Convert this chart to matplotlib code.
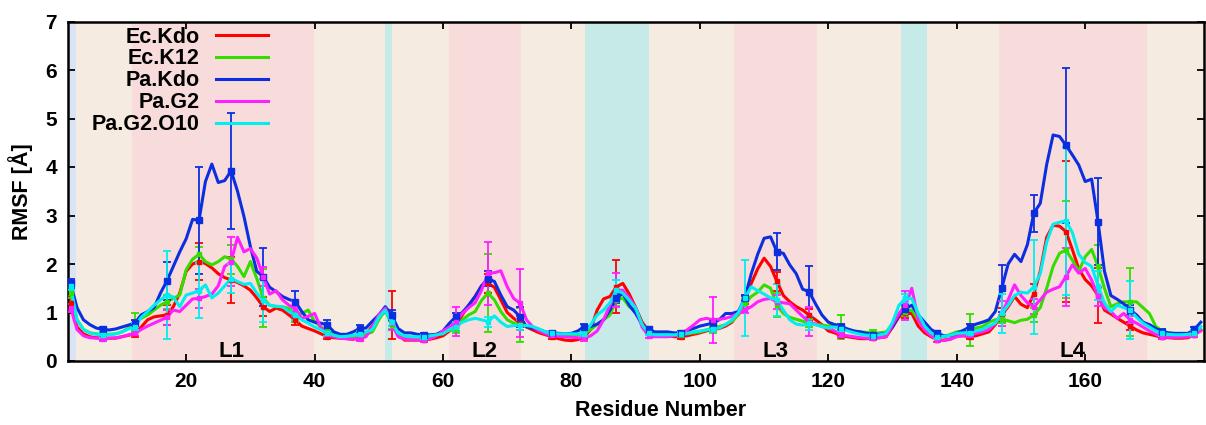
import numpy as np
import matplotlib
matplotlib.use('Agg')
import matplotlib.pyplot as plt

plt.rcParams['font.family'] = ['Liberation Sans', 'DejaVu Sans']
plt.rcParams['font.weight'] = 'bold'

# residues 2..178
residues = np.arange(2, 179)

ec_kdo = [1.20, 0.70, 0.56, 0.50, 0.48, 0.47, 0.47, 0.47,
          0.50, 0.53, 0.56, 0.70, 0.85, 0.91, 0.93, 0.95, 1.12, 1.40,
          1.85, 2.00, 2.05, 2.01, 1.92, 1.80, 1.72, 1.67, 1.62, 1.55,
          1.46, 1.30, 1.12, 1.02, 1.09, 1.05, 0.95, 0.85, 0.72, 0.67,
          0.62, 0.56, 0.50, 0.48, 0.47, 0.46, 0.45, 0.48, 0.55, 0.72,
          0.90, 1.02, 0.95, 0.55, 0.43, 0.43, 0.43, 0.44, 0.45, 0.48,
          0.52, 0.62, 0.72, 0.95, 1.15, 1.33, 1.55, 1.60, 1.52, 1.26,
          1.00, 0.88, 0.78, 0.70, 0.64, 0.58, 0.54, 0.50, 0.46, 0.43,
          0.42, 0.44, 0.50, 0.65, 1.05, 1.28, 1.33, 1.53, 1.60, 1.38,
          1.10, 0.80, 0.62, 0.57, 0.54, 0.52, 0.50, 0.50, 0.52, 0.55,
          0.58, 0.62, 0.65, 0.67, 0.72, 0.80, 1.00, 1.26, 1.60, 1.90,
          2.12, 1.95, 1.64, 1.35, 1.22, 1.12, 1.05, 0.95, 0.85, 0.75,
          0.62, 0.58, 0.52, 0.50, 0.48, 0.46, 0.46, 0.47, 0.48, 0.50,
          0.70, 0.91, 0.98, 0.98, 0.72, 0.58, 0.50, 0.43, 0.43, 0.45,
          0.52, 0.52, 0.50, 0.52, 0.56, 0.60, 0.75, 0.95, 1.12, 1.33,
          1.17, 1.10, 1.38, 1.85, 2.55, 2.80, 2.78, 2.67, 2.30, 1.90,
          1.68, 1.55, 1.35, 1.05, 0.97, 0.88, 0.80, 0.72, 0.64, 0.58,
          0.55, 0.52, 0.49, 0.48, 0.47, 0.47, 0.48, 0.54, 0.64]

ec_k12 = [1.40, 0.85, 0.65, 0.58, 0.56, 0.55, 0.55, 0.56,
          0.60, 0.68, 0.80, 0.88, 0.95, 1.05, 1.15, 1.22, 1.29, 1.36,
          1.88, 2.10, 2.20, 2.05, 1.98, 2.05, 2.15, 2.10, 1.95, 1.74,
          2.05, 1.70, 1.30, 1.15, 1.12, 1.12, 1.08, 0.95, 0.98, 1.05,
          0.81, 0.70, 0.62, 0.56, 0.51, 0.50, 0.49, 0.50, 0.55, 0.60,
          0.85, 1.05, 0.75, 0.55, 0.50, 0.48, 0.47, 0.47, 0.50, 0.55,
          0.60, 0.63, 0.67, 0.85, 0.95, 1.02, 1.25, 1.40, 1.26, 1.02,
          0.85, 0.78, 0.74, 0.72, 0.70, 0.65, 0.58, 0.56, 0.54, 0.52,
          0.53, 0.54, 0.56, 0.65, 0.75, 0.85, 0.95, 1.26, 1.30, 1.12,
          1.02, 0.75, 0.60, 0.56, 0.55, 0.54, 0.54, 0.54, 0.56, 0.58,
          0.60, 0.64, 0.68, 0.71, 0.75, 0.82, 0.95, 1.19, 1.33, 1.42,
          1.57, 1.50, 1.15, 0.98, 0.90, 0.86, 0.82, 0.78, 0.76, 0.74,
          0.72, 0.75, 0.70, 0.64, 0.61, 0.60, 0.59, 0.58, 0.58, 0.60,
          0.75, 0.98, 1.02, 1.05, 0.85, 0.70, 0.58, 0.50, 0.50, 0.55,
          0.60, 0.62, 0.64, 0.68, 0.71, 0.80, 0.85, 0.86, 0.83, 0.79,
          0.84, 0.86, 0.95, 1.10, 1.50, 1.95, 2.22, 2.29, 2.08, 1.85,
          2.15, 2.30, 1.95, 1.50, 1.12, 1.18, 1.22, 1.22, 1.22, 1.10,
          0.98, 0.71, 0.62, 0.58, 0.55, 0.54, 0.55, 0.57, 0.65]

pa_kdo = [1.60, 1.10, 0.85, 0.75, 0.68, 0.65, 0.64, 0.66,
          0.70, 0.74, 0.78, 0.95, 1.02, 1.10, 1.40, 1.65, 1.95, 2.25,
          2.52, 2.92, 2.90, 3.70, 4.06, 3.68, 3.72, 3.92, 3.50, 2.98,
          2.36, 1.85, 1.74, 1.52, 1.43, 1.33, 1.27, 1.22, 1.02, 0.85,
          0.80, 0.78, 0.74, 0.60, 0.55, 0.55, 0.60, 0.67, 0.68, 0.82,
          0.95, 1.12, 0.95, 0.67, 0.58, 0.58, 0.55, 0.54, 0.54, 0.55,
          0.62, 0.78, 0.91, 1.00, 1.15, 1.33, 1.55, 1.70, 1.64, 1.36,
          1.12, 1.05, 0.91, 0.71, 0.67, 0.64, 0.60, 0.58, 0.57, 0.56,
          0.57, 0.62, 0.71, 0.71, 0.76, 0.85, 1.05, 1.29, 1.40, 1.15,
          0.98, 0.75, 0.65, 0.60, 0.60, 0.60, 0.58, 0.58, 0.62, 0.67,
          0.72, 0.75, 0.78, 0.85, 0.98, 0.98, 1.02, 1.30, 1.80, 2.20,
          2.53, 2.56, 2.25, 2.22, 1.98, 1.80, 1.48, 1.43, 1.18, 0.95,
          0.80, 0.75, 0.71, 0.66, 0.62, 0.60, 0.57, 0.54, 0.55, 0.57,
          0.70, 0.95, 1.08, 1.15, 0.95, 0.80, 0.65, 0.57, 0.52, 0.52,
          0.57, 0.63, 0.70, 0.76, 0.80, 0.85, 1.02, 1.50, 2.00, 2.20,
          2.05, 2.40, 3.05, 3.25, 4.05, 4.66, 4.63, 4.45, 4.25, 4.04,
          3.70, 3.75, 2.87, 1.85, 1.35, 1.27, 1.18, 1.05, 0.95, 0.80,
          0.75, 0.67, 0.60, 0.58, 0.57, 0.57, 0.57, 0.65, 0.80]

pa_g2 = [1.10, 0.65, 0.52, 0.48, 0.47, 0.46, 0.47, 0.48,
         0.50, 0.54, 0.57, 0.65, 0.72, 0.78, 0.84, 0.90, 1.05, 1.02,
         1.15, 1.28, 1.29, 1.33, 1.38, 1.55, 1.95, 2.05, 2.55, 2.25,
         2.32, 2.12, 1.74, 1.38, 1.45, 1.26, 1.15, 1.08, 0.88, 0.92,
         0.98, 0.68, 0.55, 0.50, 0.47, 0.46, 0.45, 0.46, 0.50, 0.70,
         0.95, 1.09, 0.78, 0.50, 0.45, 0.44, 0.43, 0.44, 0.46, 0.52,
         0.62, 0.70, 0.81, 0.98, 1.10, 1.20, 1.46, 1.81, 1.82, 1.86,
         1.53, 1.29, 1.19, 0.85, 0.70, 0.62, 0.56, 0.53, 0.51, 0.50,
         0.49, 0.48, 0.47, 0.52, 0.62, 0.85, 1.15, 1.46, 1.46, 1.30,
         1.10, 0.70, 0.52, 0.50, 0.50, 0.50, 0.52, 0.56, 0.64, 0.74,
         0.85, 0.88, 0.85, 0.86, 0.88, 0.92, 0.98, 1.05, 1.12, 1.22,
         1.27, 1.29, 1.22, 1.20, 1.18, 1.05, 0.92, 0.81, 0.76, 0.71,
         0.68, 0.62, 0.54, 0.52, 0.50, 0.48, 0.47, 0.47, 0.48, 0.50,
         0.75, 0.98, 1.15, 1.50, 0.85, 0.64, 0.52, 0.43, 0.42, 0.45,
         0.50, 0.52, 0.54, 0.57, 0.60, 0.65, 0.78, 0.98, 1.26, 1.57,
         1.35, 1.20, 1.12, 1.26, 1.42, 1.48, 1.53, 1.74, 1.98, 1.81,
         1.91, 1.67, 1.33, 1.10, 1.02, 0.88, 0.98, 0.85, 0.78, 0.70,
         0.62, 0.55, 0.50, 0.49, 0.49, 0.49, 0.50, 0.54, 0.62]

pa_g2_o10 = [1.55, 0.85, 0.65, 0.58, 0.55, 0.54, 0.54, 0.56,
             0.60, 0.66, 0.71, 0.90, 1.02, 1.15, 1.26, 1.36, 1.32, 1.12,
             1.36, 1.40, 1.45, 1.57, 1.30, 1.40, 1.55, 1.70, 1.64, 1.58,
             1.60, 1.40, 1.25, 1.15, 1.13, 1.12, 1.02, 0.95, 0.85, 0.78,
             0.70, 0.64, 0.57, 0.53, 0.50, 0.51, 0.53, 0.56, 0.60, 0.65,
             0.90, 1.05, 0.80, 0.58, 0.52, 0.50, 0.50, 0.50, 0.52, 0.54,
             0.56, 0.65, 0.71, 0.80, 0.85, 0.88, 0.85, 0.81, 0.93, 0.80,
             0.71, 0.73, 0.74, 0.73, 0.71, 0.66, 0.60, 0.57, 0.56, 0.56,
             0.56, 0.56, 0.56, 0.75, 0.95, 1.05, 1.20, 1.46, 1.40, 1.25,
             1.09, 0.75, 0.58, 0.54, 0.54, 0.54, 0.54, 0.55, 0.57, 0.60,
             0.62, 0.64, 0.66, 0.68, 0.75, 0.85, 1.00, 1.30, 1.53, 1.45,
             1.38, 1.30, 1.26, 1.05, 0.85, 0.76, 0.74, 0.78, 0.75, 0.71,
             0.68, 0.70, 0.67, 0.62, 0.58, 0.55, 0.53, 0.52, 0.54, 0.57,
             0.80, 1.15, 1.29, 1.29, 0.98, 0.72, 0.58, 0.50, 0.51, 0.53,
             0.57, 0.58, 0.58, 0.62, 0.65, 0.72, 0.78, 0.98, 1.15, 1.35,
             1.42, 1.40, 1.53, 1.80, 2.45, 2.82, 2.86, 2.89, 2.65, 2.20,
             2.03, 1.95, 1.55, 1.20, 1.02, 1.15, 1.10, 1.05, 0.90, 0.78,
             0.70, 0.62, 0.57, 0.55, 0.54, 0.54, 0.55, 0.57, 0.71]

# error bars every 5th residue (2, 7, ..., 177)
err_residues = np.arange(2, 179, 5)
ec_kdo_err = [0.15, 0.04, 0.06, 0.20, 0.38, 0.48, 0.20, 0.10, 0.05, 0.05, 0.50, 0.04,
              0.10, 0.20, 0.15, 0.04, 0.05, 0.55, 0.05, 0.04, 0.05, 0.08, 0.20, 0.12,
              0.05, 0.04, 0.10, 0.04, 0.05, 0.15, 0.20, 1.45, 0.57, 0.08, 0.04, 0.05]
ec_k12_err = [0.10, 0.04, 0.20, 0.15, 0.15, 0.30, 0.60, 0.15, 0.05, 0.05, 0.08, 0.04,
              0.10, 0.80, 0.35, 0.04, 0.05, 0.12, 0.05, 0.04, 0.10, 0.08, 0.25, 0.08,
              0.25, 0.05, 0.10, 0.04, 0.33, 0.08, 0.15, 1.00, 0.45, 0.70, 0.05, 0.06]
pa_kdo_err = [0.10, 0.05, 0.06, 0.40, 1.10, 1.20, 0.60, 0.23, 0.10, 0.08, 0.10, 0.04,
              0.08, 0.15, 0.20, 0.04, 0.06, 0.10, 0.04, 0.04, 0.05, 0.06, 0.38, 0.52,
              0.05, 0.04, 0.08, 0.04, 0.06, 0.48, 0.38, 1.60, 0.90, 0.10, 0.05, 0.06]
pa_g2_err = [0.08, 0.05, 0.06, 0.15, 0.20, 0.50, 0.20, 0.15, 0.05, 0.05, 0.15, 0.04,
             0.30, 0.65, 0.70, 0.04, 0.05, 0.35, 0.05, 0.04, 0.47, 0.06, 0.15, 0.30,
             0.05, 0.04, 0.30, 0.04, 0.05, 0.25, 0.15, 0.60, 0.20, 0.08, 0.05, 0.05]
pa_g2_o10_err = [0.08, 0.06, 0.08, 0.90, 0.57, 0.30, 0.45, 0.10, 0.05, 0.05, 0.08, 0.04,
                 0.10, 0.10, 0.10, 0.04, 0.05, 0.20, 0.05, 0.04, 0.06, 0.78, 0.33, 0.15,
                 0.06, 0.04, 0.10, 0.04, 0.05, 0.40, 0.97, 1.53, 0.30, 0.60, 0.05, 0.06]

labels = ['Ec.Kdo', 'Ec.K12', 'Pa.Kdo', 'Pa.G2', 'Pa.G2.O10']
colors = ['#ff0000', '#33dd00', '#0b2fe0', '#ff20ff', '#00eeee']
series = [ec_kdo, ec_k12, pa_kdo, pa_g2, pa_g2_o10]
errors = [ec_kdo_err, ec_k12_err, pa_kdo_err, pa_g2_err, pa_g2_o10_err]

# background regions (start, end, kind)
regions = [(1.6, 2.8, 'blue'), (11.6, 39.9, 'loop'), (51.0, 52.0, 'cyan'),
           (61.0, 72.1, 'loop'), (82.1, 92.1, 'cyan'), (105.3, 118.3, 'loop'),
           (131.3, 135.3, 'cyan'), (146.5, 169.6, 'loop')]
region_colors = {'blue': '#dae4f4', 'loop': '#f8dcdb', 'cyan': '#c6eae8'}
loop_names = ['L1', 'L2', 'L3', 'L4']
loop_pos = [27, 66.5, 111.7, 158]

fig = plt.figure(figsize=(12.06, 4.25), dpi=100)
ax = fig.add_axes([68 / 1206, 64 / 425, 1136 / 1206, 339.5 / 425])
ax.set_facecolor('#f6ebe0')

for start, end, kind in regions:
    ax.axvspan(start, end, color=region_colors[kind], lw=0, zorder=0)

idx = err_residues - residues[0]
for name, col, vals, err in zip(labels, colors, series, errors):
    vals = np.array(vals)
    ax.plot(residues, vals, color=col, lw=2.2, label=name, zorder=3)
    ms = 5 if name == 'Pa.Kdo' else 3
    ax.errorbar(err_residues, vals[idx], yerr=err, fmt='s', color=col, ms=ms,
                elinewidth=1.3, capsize=3, capthick=1.3, zorder=3)

for name, xpos in zip(loop_names, loop_pos):
    ax.text(xpos, 0.2, name, ha='center', va='center', fontsize=16, fontweight='bold')

ax.set_xlim(1.6, 178.5)
ax.set_ylim(0, 7)
ax.set_xticks(range(20, 180, 20))
ax.set_yticks(range(0, 8))
ax.tick_params(direction='in', length=5, width=1.3, top=True, right=True,
               labelsize=15, pad=8)
for lbl in ax.get_xticklabels() + ax.get_yticklabels():
    lbl.set_fontweight('bold')
for sp in ax.spines.values():
    sp.set_linewidth(1.8)

ax.set_xlabel('Residue Number', fontsize=15.5, fontweight='bold', labelpad=7)
ax.xaxis.set_label_coords(0.522, -0.115)
ax.set_ylabel('RMSF [Å]', fontsize=15.5, fontweight='bold', labelpad=9)

ax.legend(loc='upper left', bbox_to_anchor=(0.021, 0.985), frameon=False,
          markerfirst=False, handlelength=2.4, handletextpad=0.75,
          labelspacing=0.04, borderpad=0, borderaxespad=0,
          prop={'weight': 'bold', 'size': 15.5})

fig.savefig('out.png', dpi=100)
